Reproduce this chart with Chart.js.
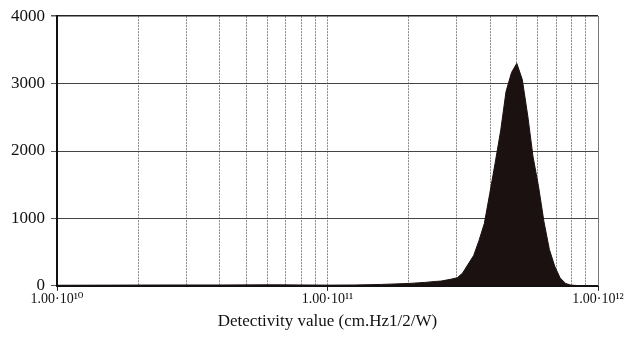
<!DOCTYPE html>
<html>
<head>
<meta charset="utf-8">
<script src="https://cdn.jsdelivr.net/npm/chart.js@4/dist/chart.umd.min.js"></script>
<style>
  body { margin: 0; background: #fff; }
  #wrap { width: 631px; height: 345px; }
</style>
</head>
<body>
<div id="wrap"><canvas id="histChart"></canvas></div>
<script>
// Detectivity bin centres (cm.Hz1/2/W) and counts per bin
const detectivity = [
  1.00e10, 1.58e10, 2.51e10, 3.98e10, 6.31e10, 1.00e11, 1.26e11, 1.58e11, 2.00e11, 2.29e11,
  2.51e11, 2.63e11, 2.75e11, 2.88e11, 3.02e11, 3.16e11, 3.31e11, 3.47e11, 3.63e11, 3.80e11,
  3.98e11, 4.17e11, 4.37e11, 4.57e11, 4.79e11, 5.01e11, 5.25e11, 5.50e11, 5.75e11, 6.03e11,
  6.31e11, 6.61e11, 6.92e11, 7.24e11, 7.59e11, 7.94e11, 8.32e11, 8.71e11, 1.00e12
];
const counts = [
  8, 10, 12, 12, 15, 10, 12, 20, 35, 50,
  65, 70, 85, 100, 120, 190, 320, 450, 670, 925,
  1370, 1830, 2310, 2880, 3165, 3300, 3060, 2520, 1920, 1470,
  955, 540, 290, 118, 35, 10, 5, 0, 0
];
const yTicks = [0, 1000, 2000, 3000, 4000];
const xLabels = { 1e10: '1.00·10¹⁰', 1e11: '1.00·10¹¹', 1e12: '1.00·10¹²' };

const points = detectivity.map((d, i) => ({ x: d, y: counts[i] }));

// grid positions 1..9 x 10^n
const xGrid = [];
[1e10, 1e11].forEach(p => { for (let k = 1; k <= 9; k++) xGrid.push(k * p); });
xGrid.push(1e12);

const isDecade = v => xLabels[v] !== undefined;

const serif = '"Liberation Serif", "DejaVu Serif", serif';

new Chart(document.getElementById('histChart').getContext('2d'), {
  type: 'line',
  data: {
    datasets: [{
      label: 'Count',
      data: points,
      fill: 'origin',
      backgroundColor: '#1b1110',
      borderColor: '#1b1110',
      borderWidth: 1,
      pointRadius: 0,
      tension: 0
    }]
  },
  options: {
    responsive: true,
    maintainAspectRatio: false,
    animation: false,
    layout: { padding: { top: 12, right: 33, bottom: 9, left: 0 } },
    plugins: {
      legend: { display: false },
      tooltip: { enabled: false }
    },
    scales: {
      x: {
        type: 'logarithmic',
        min: 1e10,
        max: 1e12,
        afterBuildTicks: axis => { axis.ticks = xGrid.map(v => ({ value: v })); },
        ticks: {
          autoSkip: false,
          maxRotation: 0,
          color: '#111',
          font: { family: serif, size: 14 },
          padding: 0,
          callback: v => xLabels[v] || ''
        },
        grid: {
          color: ctx => (ctx.tick && ctx.tick.value === 1e10) ? 'rgba(0,0,0,0)' : '#8a8a8a',
          lineWidth: 1,
          tickLength: 5,
          tickColor: ctx => (ctx.tick && isDecade(ctx.tick.value)) ? '#222' : 'rgba(0,0,0,0)'
        },
        border: { color: '#111', width: 2, dash: [2, 1] },
        title: {
          display: true,
          text: 'Detectivity value (cm.Hz1/2/W)',
          color: '#111',
          font: { family: serif, size: 17 },
          padding: { top: 4 }
        }
      },
      y: {
        min: 0,
        max: 4000,
        afterBuildTicks: axis => { axis.ticks = yTicks.map(v => ({ value: v })); },
        afterFit: axis => { axis.width = 57; },
        ticks: {
          color: '#111',
          font: { family: serif, size: 17 },
          padding: 6,
          callback: v => String(v)
        },
        grid: {
          color: ctx => (ctx.tick && ctx.tick.value === 4000) ? '#222' : '#444',
          lineWidth: ctx => (ctx.tick && ctx.tick.value === 4000) ? 1.5 : 1,
          tickLength: 6,
          tickColor: '#555'
        },
        border: { color: '#111', width: 2 }
      },
      yRight: {
        position: 'right',
        min: 0,
        max: 4000,
        afterFit: axis => { axis.width = 0; },
        ticks: { display: false },
        grid: { display: false },
        border: { color: '#777', width: 1 }
      }
    }
  }
});
</script>
</body>
</html>
